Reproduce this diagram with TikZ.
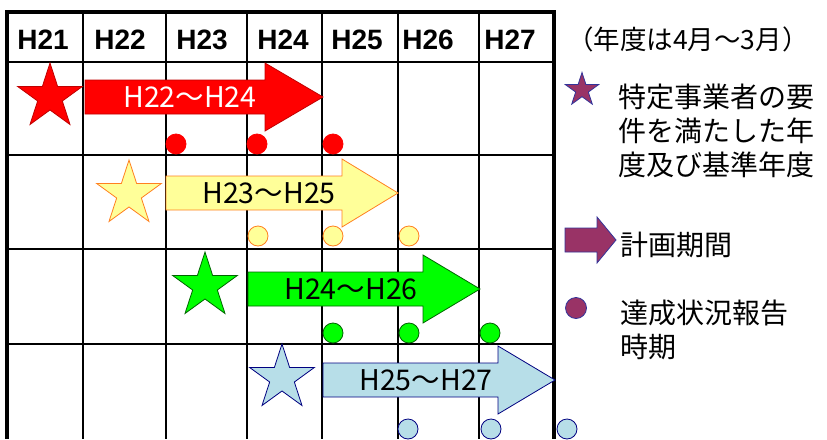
\documentclass[tikz,border=0pt]{standalone}
\usepackage{fontspec}
\setmainfont{Liberation Sans}
\newfontfamily\jpfont{Noto Sans CJK JP}
\usetikzlibrary{shapes.geometric}

\tikzset{
  gridline/.style={line width=1.3pt},
  frameline/.style={line width=3.5pt},
  yearlabel/.style={inner sep=0pt, font=\fontsize{28}{28}\selectfont\bfseries},
  plantext/.style={inner sep=0pt, font=\jpfont\fontsize{28.5}{28.5}\selectfont},
  legendtext/.style={inner sep=0pt, anchor=west, align=left, font=\jpfont\fontsize{28}{34}\selectfont},
  basestar/.style={star, star points=5, star point ratio=2.618, minimum size=68pt, inner sep=0pt, draw, line width=0.8pt},
  reportdot/.style={circle, minimum size=20pt, inner sep=0pt, draw, line width=0.8pt},
}

\begin{document}
\begin{tikzpicture}[x=1pt,y=-1pt]
    \useasboundingbox (0,0) rectangle (827,439);
    % colours
    \definecolor{planred}{RGB}{255,0,0}
    \definecolor{edgered}{RGB}{192,0,0}
    \definecolor{planyellow}{RGB}{255,255,153}
    \definecolor{edgeorange}{RGB}{255,128,32}
    \definecolor{plangreen}{RGB}{0,255,0}
    \definecolor{edgegreen}{RGB}{0,100,0}
    \definecolor{planblue}{RGB}{183,222,232}
    \definecolor{edgenavy}{RGB}{0,0,128}
    \definecolor{legendpurple}{RGB}{153,51,102}
    \definecolor{edgepurple}{RGB}{51,51,153}
    % grid
    \draw[gridline] (83,12) -- (83,439);
    \draw[gridline] (166,12) -- (166,439);
    \draw[gridline] (247,12) -- (247,439);
    \draw[gridline] (322,12) -- (322,439);
    \draw[gridline] (398,12) -- (398,439);
    \draw[gridline] (479,12) -- (479,439);
    \draw[gridline] (7,62) -- (554,62);
    \draw[gridline] (7,155) -- (554,155);
    \draw[gridline] (7,249) -- (554,249);
    \draw[gridline] (7,344) -- (554,344);
    % frame
    \draw[frameline] (7,10.25) -- (7,439);
    \draw[frameline] (5.25,12) -- (555.75,12);
    \draw[frameline] (554,12) -- (554,439);
    % years
    \node[yearlabel] (h21) at (43,40) {H21};
    \node[yearlabel] (h22) at (120,40) {H22};
    \node[yearlabel] (h23) at (202,40) {H23};
    \node[yearlabel] (h24) at (283,40) {H24};
    \node[yearlabel] (h25) at (357,40) {H25};
    \node[yearlabel] (h26) at (428,40) {H26};
    \node[yearlabel] (h27) at (510,40) {H27};
    % plan periods
    \draw[fill=planred,draw=edgered,line width=0.8pt] (85,80) -- (265,80) -- (265,63) -- (323,97) -- (265,131) -- (265,114) -- (85,114) -- cycle;
    \draw[fill=planyellow,draw=edgeorange,line width=0.8pt] (166,176) -- (342,176) -- (342,159) -- (398,193) -- (342,227) -- (342,210) -- (166,210) -- cycle;
    \draw[fill=plangreen,draw=edgegreen,line width=0.8pt] (248,272) -- (423,272) -- (423,255) -- (480,289) -- (423,323) -- (423,306) -- (248,306) -- cycle;
    \draw[fill=planblue,draw=edgenavy,line width=0.8pt] (323,363) -- (498,363) -- (498,346) -- (555,380) -- (498,414) -- (498,397) -- (323,397) -- cycle;
    \node[plantext,white] (plan22) at (190,97) {H22～H24};
    \node[plantext] (plan23) at (269,193) {H23～H25};
    \node[plantext] (plan24) at (351,289) {H24～H26};
    \node[plantext] (plan25) at (426,380) {H25～H27};
    % base years
    \node[basestar,fill=planred,draw=edgered] (star21) at (50,97) {};
    \node[basestar,fill=planyellow,draw=edgeorange] (star22) at (129,194) {};
    \node[basestar,fill=plangreen,draw=edgegreen] (star23) at (205,286) {};
    \node[basestar,fill=planblue,draw=edgenavy] (star24) at (282,378) {};
    % reports
    \node[reportdot,fill=planred,draw=planred] (dot22a) at (176,144) {};
    \node[reportdot,fill=planred,draw=planred] (dot22b) at (257,144) {};
    \node[reportdot,fill=planred,draw=planred] (dot22c) at (333,144) {};
    \node[reportdot,fill=planyellow,draw=edgeorange] (dot23a) at (258,236) {};
    \node[reportdot,fill=planyellow,draw=edgeorange] (dot23b) at (333,236) {};
    \node[reportdot,fill=planyellow,draw=edgeorange] (dot23c) at (409,236) {};
    \node[reportdot,fill=plangreen,draw=edgegreen] (dot24a) at (333,333) {};
    \node[reportdot,fill=plangreen,draw=edgegreen] (dot24b) at (409,333) {};
    \node[reportdot,fill=plangreen,draw=edgegreen] (dot24c) at (490,333) {};
    \node[reportdot,fill=planblue,draw=edgenavy] (dot25a) at (408,429) {};
    \node[reportdot,fill=planblue,draw=edgenavy] (dot25b) at (491,429) {};
    \node[reportdot,fill=planblue,draw=edgenavy] (dot25c) at (567,429) {};
    % legend
    \node[legendtext,font=\jpfont\fontsize{26.5}{26.5}\selectfont] (fiscal) at (567,39) {（年度は4月～3月）};
    \node[basestar,minimum size=35pt,fill=legendpurple,draw=edgepurple] (keystar) at (582,90) {};
    \node[legendtext] (keystartext) at (618,131) {特定事業者の要\\件を満たした年\\度及び基準年度};
    \draw[fill=legendpurple,draw=edgepurple,line width=0.8pt] (565,228) -- (597,228) -- (597,217) -- (616,240) -- (597,263) -- (597,252) -- (565,252) -- cycle;
    \node[legendtext] (keyplantext) at (620,245) {計画期間};
    \node[reportdot,minimum size=21pt,fill=legendpurple,draw=edgepurple] (keydot) at (576,308) {};
    \node[legendtext] (keydottext) at (620,330) {達成状況報告\\時期};
\end{tikzpicture}
\end{document}
